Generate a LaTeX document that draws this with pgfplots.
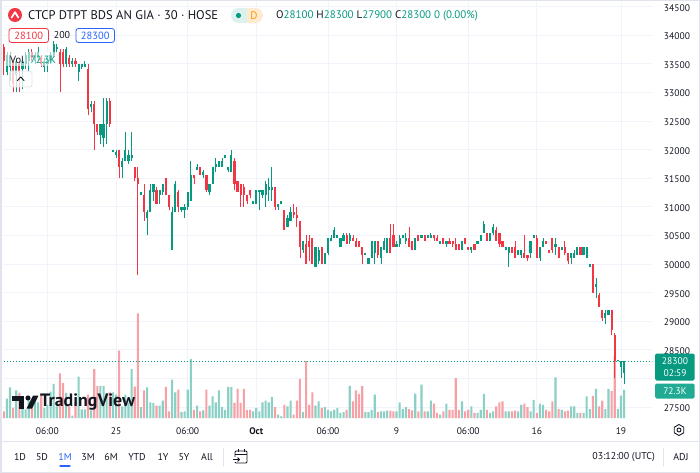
\documentclass[border=0pt]{standalone}
\usepackage{pgfplots}
\pgfplotsset{compat=1.18}
\usepackage{pgfplotstable}
\usepackage{fontspec}
\setmainfont{PT Sans}
\definecolor{tvgreen}{HTML}{089981}
\definecolor{tvred}{HTML}{F23645}
\definecolor{volgreen}{HTML}{8AD0C4}
\definecolor{volred}{HTML}{F7A1A6}
\definecolor{gridc}{HTML}{F0F3FA}
\definecolor{txt}{HTML}{131722}
\definecolor{tvblue}{HTML}{2962FF}
\definecolor{framec}{HTML}{E0E3EB}
\definecolor{pillg}{HTML}{DDF2EE}
\definecolor{pillo}{HTML}{FFEAD2}
\definecolor{tvorange}{HTML}{FF9800}
\definecolor{lblbox}{HTML}{22AB94}

\pgfplotstableread{
i o h l c v
0 33800 33850 33300 33550 17
1 33350 33700 33300 33650 50
2 33450 33700 33200 33650 79
3 33550 33600 33000 33150 26
4 33300 33600 33000 33550 71
5 33500 33550 33000 33350 65
6 33400 33600 33050 33550 30
7 33500 33700 33400 33650 22
8 33550 33750 33350 33700 45
9 33700 33750 33550 33600 40
10 33550 33700 33500 33650 48
11 33600 33800 33550 33700 40
12 33600 33650 33450 33500 60
13 33450 33600 33350 33550 26
14 33500 33600 33350 33550 34
15 33550 33700 33500 33650 68
16 33650 33900 33600 33850 88
17 33750 33850 33700 33800 30
18 33700 33750 33000 33500 115
19 33700 33750 33450 33500 90
20 33500 33800 33450 33750 65
21 33600 33650 33450 33500 30
22 33500 33600 33450 33550 6
23 33550 33600 33450 33500 40
24 33350 33500 33200 33500 107
25 33450 33500 33400 33500 22
26 33450 33550 33450 33500 22
27 33400 33500 32600 32700 60
28 32750 32850 32650 32800 20
29 32800 32850 32000 32450 126
30 32450 32450 32250 32300 83
31 32250 32450 32100 32450 83
32 32200 32900 32050 32450 83
33 32450 32900 32100 32850 64
34 32850 32900 32400 32450 66
35 31950 32000 31950 32000 66
36 31900 32000 31850 31950 60
37 32000 32000 31500 31700 174
38 31700 31850 31500 31800 30
39 31800 32300 31800 32000 60
40 31800 32000 31750 31900 40
41 31850 32300 31800 31900 126
42 31700 31700 31450 31500 81
43 31500 31700 29800 31400 270
44 31200 31250 31200 31250 28
45 31200 31400 30750 30900 71
46 30800 30950 30500 30900 79
47 30900 31400 30900 31300 40
48 31250 31400 31100 31400 39
49 31300 31350 31050 31050 32
50 31200 31300 31050 31300 32
51 31250 31400 31200 31400 45
52 31500 31500 31200 31200 80
53 31200 31200 30950 31000 17
54 30250 31000 30250 30900 99
55 30900 31450 30900 31400 66
56 31250 31300 30900 31000 73
57 30950 31000 30900 31000 15
58 30950 31050 30800 31000 17
59 31000 31250 30950 31250 73
60 31100 31800 31100 31550 152
61 31550 31550 31400 31500 21
62 31650 31750 31650 31700 32
63 31700 31700 31550 31550 17
64 31550 31650 31500 31600 20
65 31550 31550 31250 31300 73
66 31250 31400 31200 31400 32
67 31400 31700 31400 31700 56
68 31700 31850 31600 31750 40
69 31700 31800 31700 31800 71
70 31700 31850 31700 31800 28
71 31850 31900 31850 31900 21
72 31650 31700 31600 31700 80
73 31600 32000 31600 31900 80
74 31800 31850 31300 31400 39
75 31450 31450 31250 31250 75
76 31400 31400 31000 31200 39
77 31350 31400 31000 31200 75
78 31200 31200 31050 31100 21
79 31300 31300 31150 31200 21
80 31050 31100 31050 31100 17
81 31050 31300 31050 31300 26
82 31250 31300 30950 31300 17
83 31200 31300 31150 31300 40
84 31200 31450 31000 31400 45
85 31300 31500 31100 31350 40
86 31300 31700 31100 31350 54
87 31350 31350 30950 31000 28
88 31000 31050 30950 31050 9
89 31050 31100 31050 31100 4
90 30950 30950 30600 30600 34
91 30650 30850 30650 30800 30
92 30750 31000 30750 30900 45
93 30900 31050 30800 30850 9
94 30850 31000 30650 30800 45
95 30750 30750 30100 30300 101
96 30250 30400 30200 30400 15
97 30350 30500 30000 30000 147
98 30400 30500 30050 30300 34
99 30450 30450 30000 30000 66
100 29950 30300 29950 30300 32
101 30050 30300 30000 30250 43
102 30300 30300 30000 30000 26
103 30000 30200 30000 30200 28
104 30200 30450 30150 30450 21
105 30400 30500 30400 30450 17
106 30450 30650 30450 30600 21
107 30450 30500 30450 30500 26
108 30300 30450 30300 30450 13
109 30400 30550 30400 30500 15
110 30500 30550 30350 30350 21
111 30400 30550 30350 30500 83
112 30450 30500 30400 30400 43
113 30400 30450 30300 30300 71
114 30400 30400 30300 30300 62
115 30300 30300 30000 30150 82
116 30150 30200 30150 30200 15
117 30000 30100 30000 30100 15
118 30100 30400 30100 30400 21
119 30200 30400 30000 30400 60
120 30400 30400 30100 30150 15
121 30100 30300 30000 30300 17
122 30250 30450 30250 30400 17
123 30200 30450 30200 30450 19
124 30450 30700 30200 30200 19
125 30500 30700 30300 30300 17
126 30300 30400 30300 30350 17
127 30350 30500 30300 30450 40
128 30450 30500 30450 30500 23
129 30400 30550 30350 30450 28
130 30450 30650 30300 30300 23
131 30400 30400 30250 30250 20
132 30250 30450 30250 30450 63
133 30500 30500 30400 30400 17
134 30450 30500 30450 30500 86
135 30500 30500 30400 30400 17
136 30450 30500 30450 30500 17
137 30450 30550 30450 30500 45
138 30500 30500 30400 30450 37
139 30450 30500 30400 30400 13
140 30350 30400 30350 30400 9
141 30450 30450 30350 30350 17
142 30350 30400 30300 30400 37
143 30400 30450 30350 30350 21
144 30400 30400 30300 30350 21
145 30350 30450 30250 30250 103
146 30350 30350 30250 30250 21
147 30250 30400 30250 30400 43
148 30450 30450 30350 30350 17
149 30300 30300 30250 30250 21
150 30250 30300 30200 30300 30
151 30350 30350 30250 30250 13
152 30350 30400 30350 30400 13
153 30400 30500 30400 30500 21
154 30550 30750 30550 30700 62
155 30550 30550 30400 30400 21
156 30400 30550 30400 30550 13
157 30550 30700 30500 30650 17
158 30600 30650 30400 30400 30
159 30550 30550 30300 30350 40
160 30400 30400 30300 30300 43
161 30250 30300 30250 30300 17
162 30200 30300 29950 30300 17
163 30300 30300 30200 30200 17
164 30300 30400 30100 30100 19
165 30150 30250 30150 30250 17
166 30150 30250 30100 30250 34
167 30200 30500 30100 30100 37
168 30150 30150 30050 30100 28
169 30200 30400 30100 30400 17
170 30450 30500 30450 30500 47
171 30450 30500 30100 30100 13
172 30100 30300 30050 30300 37
173 30300 30450 30300 30400 34
174 30400 30400 30350 30350 21
175 30250 30250 30200 30200 17
176 30450 30450 30200 30250 43
177 30300 30450 30150 30350 105
178 30300 30300 30100 30100 23
179 30250 30300 30250 30300 21
180 30300 30400 30150 30200 17
181 30200 30200 30000 30050 19
182 30100 30200 30000 30200 30
183 30100 30250 30100 30200 30
184 30150 30300 30150 30300 13
185 30300 30300 30150 30150 13
186 30150 30300 30150 30300 13
187 30100 30300 30100 30300 56
188 29950 30000 29950 30000 23
189 30000 30000 29500 29500 57
190 29600 29750 29400 29650 75
191 29450 29500 29250 29250 30
192 29200 29200 29000 29050 45
193 29050 29200 28950 29150 23
194 29100 29200 29100 29200 75
195 29200 29200 28750 28850 70
196 28750 28800 28000 28300 160
197 28300 28300 28300 28300 23
198 28200 28300 28000 28300 58
199 28100 28300 27900 28300 72.3
}\candles

\pgfplotsset{
  tvbox/.style={at={(3bp,-418bp)}, anchor=south west, scale only axis,
    width=649bp, height=416bp, xmin=-0.26, xmax=207.96},
  up/.style={restrict expr to domain={\thisrow{c}-\thisrow{o}}{0:100000}},
  down/.style={restrict expr to domain={\thisrow{c}-\thisrow{o}}{-100000:-1}},
}

\begin{document}
\begin{tikzpicture}[x=1bp,y=1bp]
\useasboundingbox (0,0) rectangle (700,-473);
\fill[white] (0,0) rectangle (700,-473);

% price axis: grid and tick labels
\begin{axis}[tvbox, ymin=27307.7, ymax=34579,
  axis line style={draw=none}, major tick length=0pt,
  xtick={14,36,59,81,104,126,149,171,198},
  xticklabels={06:00,25,06:00,\textbf{Oct},06:00,9,06:00,16,19},
  ytick={27500,28000,...,34500},
  yticklabels={27500,{},28500,29000,29500,30000,30500,31000,31500,32000,32500,33000,33500,34000,34500},
  scaled y ticks=false, scaled x ticks=false,
  yticklabel pos=right,
  grid=major, grid style={gridc, line width=0.8bp},
  xticklabel style={font=\fontsize{9.6}{11}\selectfont, text=txt, anchor=base, yshift=-16bp},
  yticklabel style={font=\fontsize{9.6}{11}\selectfont, text=txt, anchor=center, inner sep=0.5bp, xshift=25bp, yshift=-1.2bp}]
\addplot[draw=none] coordinates {(0,30000)};
\end{axis}

% volume
\begin{axis}[tvbox, ymin=0, ymax=1073, hide axis]
\addplot[ybar, bar width=2.1bp, bar shift=0pt, fill=volgreen, draw=none, up]
  table[x=i, y=v] {\candles};
\addplot[ybar, bar width=2.1bp, bar shift=0pt, fill=volred, draw=none, down]
  table[x=i, y=v] {\candles};
\end{axis}

% candles
\begin{axis}[tvbox, ymin=27307.7, ymax=34579, hide axis]
\addplot[draw=none, mark=none, up, error bars/.cd, y dir=plus, y explicit,
  error mark=none, error bar style={line width=0.8bp, draw=tvgreen}]
  table[x=i, y=l, y error expr=\thisrow{h}-\thisrow{l}] {\candles};
\addplot[draw=none, mark=none, down, error bars/.cd, y dir=plus, y explicit,
  error mark=none, error bar style={line width=0.8bp, draw=tvred}]
  table[x=i, y=l, y error expr=\thisrow{h}-\thisrow{l}] {\candles};
\addplot[draw=none, mark=none, up, error bars/.cd, y dir=plus, y explicit,
  error mark=none, error bar style={line width=2.2bp, draw=tvgreen}]
  table[x=i, y expr={min(\thisrow{o},\thisrow{c})}, y error expr={max(abs(\thisrow{c}-\thisrow{o}),20)}] {\candles};
\addplot[draw=none, mark=none, down, error bars/.cd, y dir=plus, y explicit,
  error mark=none, error bar style={line width=2.2bp, draw=tvred}]
  table[x=i, y expr={min(\thisrow{o},\thisrow{c})}, y error expr={max(abs(\thisrow{c}-\thisrow{o}),20)}] {\candles};
\addplot[tvgreen, line width=0.8bp, dash pattern=on 1bp off 2bp] coordinates {(-1,28300) (209,28300)};
\end{axis}

\begin{scope}[y=-1bp]
% frame
\draw[framec, line width=1.5bp] (0.75,0.75) rectangle (699.25,472.25);
\draw[framec, line width=1bp] (0,441) -- (700,441);
\draw[framec, line width=1bp] (223,448) -- (223,466);
\draw[framec, line width=1bp] (663,448) -- (663,466);

% header
\fill[tvred] (15,15) circle (7);
\draw[white, line width=1.7bp, line join=round, line cap=round] (11.6,17.6) -- (15,12.2) -- (18.4,17.6);
\node[anchor=west, inner sep=0, text=txt, font=\fontsize{12.6}{14}\selectfont] at (28,15.5) {CTCP DTPT BDS AN GIA · 30 · HOSE};
\begin{scope}
\clip[rounded corners=7.5bp] (231,8) rectangle (263,23);
\fill[pillg] (231,8) rectangle (247,23);
\fill[pillo] (247,8) rectangle (263,23);
\end{scope}
\fill[tvgreen] (238.5,15.5) circle (2.6);
\node[text=tvorange, font=\fontsize{11}{13}\selectfont, inner sep=0] at (254,15.5) {D};
\node[anchor=west, inner sep=0, text=txt, font=\fontsize{11}{13}\selectfont] at (276,15.5)
  {O\textcolor{tvgreen}{28100} H\textcolor{tvgreen}{28300} L\textcolor{tvgreen}{27900} C\textcolor{tvgreen}{28300} \textcolor{tvgreen}{0 (0.00\%)}};

% bid/ask
\fill[white] (9,28.5) rectangle (48.5,42.5);
\draw[tvred, line width=0.8bp, rounded corners=2.5bp] (9,28.5) rectangle (48.5,42.5);
\node[text=tvred, font=\fontsize{10.5}{12}\selectfont, inner sep=0] at (28.75,35.5) {28100};
\node[text=txt, font=\fontsize{10}{12}\selectfont, inner sep=0] at (62,35.5) {200};
\fill[white] (76,28.5) rectangle (114.5,42.5);
\draw[tvblue, line width=0.8bp, rounded corners=2.5bp] (76,28.5) rectangle (114.5,42.5);
\node[text=tvblue, font=\fontsize{10.5}{12}\selectfont, inner sep=0] at (95.25,35.5) {28300};

% volume legend
\fill[white, opacity=0.55] (6,52) rectangle (58,66);
\node[anchor=west, inner sep=0, text=txt, font=\fontsize{10.5}{12}\selectfont] at (10,59.5)
  {Vol\hspace{6bp}\textcolor{tvgreen}{72.3K}};
\fill[white, opacity=0.75, rounded corners=2.5bp] (9.5,71) rectangle (32,87);
\draw[framec, line width=0.8bp, rounded corners=2.5bp] (9.5,71) rectangle (32,87);
\draw[txt, line width=0.9bp, line join=round, line cap=round] (17.5,80.5) -- (20.75,77) -- (24,80.5);

% price labels
\fill[tvgreen, rounded corners=1.5bp] (655,353.5) rectangle (694.5,380.5);
\node[text=white, font=\fontsize{9.6}{11}\selectfont, inner sep=0] at (675,361.5) {28300};
\node[text=white, font=\fontsize{9.6}{11}\selectfont, inner sep=0] at (675,373.5) {02:59};
\fill[lblbox, rounded corners=1.5bp] (655,383.5) rectangle (694.5,398.5);
\node[text=white, font=\fontsize{9.6}{11}\selectfont, inner sep=0] at (675,391) {72.3K};

% TradingView logo
\fill[txt] (12,395.5) rectangle (24,400.5);
\fill[txt] (18.5,395.5) rectangle (24,408.5);
\fill[txt] (28,398) circle (2.6);
\fill[txt] (33,395.5) -- (38.5,395.5) -- (32,408.5) -- (26.5,408.5) -- cycle;
\node[anchor=west, inner sep=0, text=txt, font=\bfseries\fontsize{18}{20}\selectfont] at (40,402.5) {TradingView};

% settings icon
\draw[txt, line width=0.9bp] (679,430) +(30:5.5) -- +(90:5.5) -- +(150:5.5) -- +(210:5.5) -- +(270:5.5) -- +(330:5.5) -- cycle;
\draw[txt, line width=0.9bp] (679,430) circle (2);

% toolbar
\foreach \lab/\xx in {1D/20,5D/42,3M/88,6M/111,YTD/137,1Y/163,5Y/184,All/207}
  \node[text=txt, font=\fontsize{10}{12}\selectfont, inner sep=0] at (\xx,457) {\lab};
\node[text=tvblue, font=\fontsize{10}{12}\selectfont, inner sep=0] at (65,457) {1M};
\draw[tvblue, line width=1.3bp, line cap=round] (60,466) -- (70,466);
\draw[txt, line width=0.9bp, rounded corners=1bp] (235,451) rectangle (247,463);
\draw[txt, line width=0.9bp] (235,454.5) -- (247,454.5);
\draw[txt, line width=0.9bp] (238,449) -- (238,452) (244,449) -- (244,452);
\fill[white] (233,456.5) rectangle (238.5,462);
\draw[txt, line width=0.9bp] (233,459.5) -- (239.5,459.5);
\draw[txt, line width=0.9bp] (237.5,457.5) -- (239.5,459.5) -- (237.5,461.5);
\node[anchor=east, text=txt, font=\fontsize{10}{12}\selectfont, inner sep=0] at (655,457) {03:12:00 (UTC)};
\node[text=txt, font=\fontsize{10}{12}\selectfont, inner sep=0] at (681,457) {ADJ};
\end{scope}
\end{tikzpicture}
\end{document}
